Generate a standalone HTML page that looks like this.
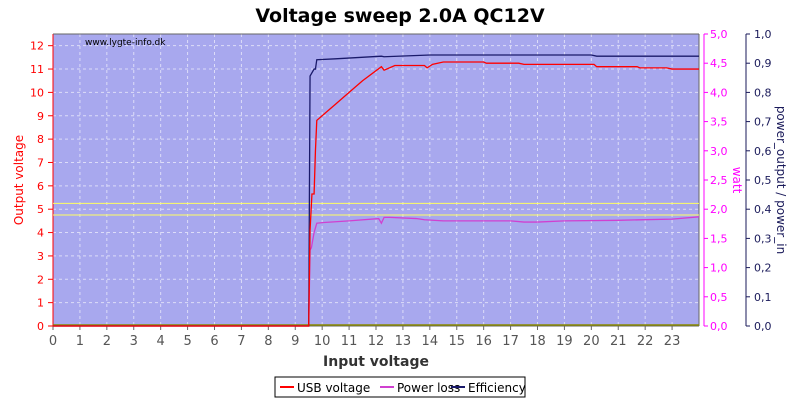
<!DOCTYPE html>
<html><head><meta charset="utf-8"><style>
body{margin:0;background:#fff;}
svg text{font-family:"DejaVu Sans","Liberation Sans",sans-serif;}
</style></head><body>
<svg id="c" width="800" height="400" xmlns="http://www.w3.org/2000/svg">
<text x="400" y="22" text-anchor="middle" font-size="19" font-weight="bold">Voltage sweep 2.0A QC12V</text>
<rect x="53" y="34" width="646" height="292" fill="#a8a8ee"/>
<g id="grid"></g>
<g id="axes"></g>
<g id="series"></g>
<text x="85" y="45" font-size="9" fill="#000">www.lygte-info.dk</text>
<text x="376" y="366" text-anchor="middle" font-size="14" font-weight="bold" fill="#333">Input voltage</text>
<text transform="translate(23,180) rotate(-90)" text-anchor="middle" font-size="12" fill="#f00">Output voltage</text>
<text transform="translate(733,180) rotate(90)" text-anchor="middle" font-size="12" fill="#f0f">watt</text>
<text transform="translate(777,180) rotate(90)" text-anchor="middle" font-size="12" fill="#1a1a5a">power_output / power_in</text>
<g>
<rect x="275" y="377" width="250" height="20" fill="#fff" stroke="#000"/>
<line x1="280" y1="387" x2="294" y2="387" stroke="#f00" stroke-width="2"/>
<text x="297" y="392" font-size="12" fill="#000">USB voltage</text>
<line x1="380" y1="387" x2="394" y2="387" stroke="#d040d0" stroke-width="2"/>
<text x="397" y="392" font-size="12" fill="#000">Power loss</text>
<line x1="451" y1="387" x2="465" y2="387" stroke="#1a1a6a" stroke-width="2"/>
<text x="468" y="392" font-size="12" fill="#000">Efficiency</text>
</g>
</svg>
<script>
const xTicks=[0,1,2,3,4,5,6,7,8,9,10,11,12,13,14,15,16,17,18,19,20,21,22,23];
const vTicks=[0,1,2,3,4,5,6,7,8,9,10,11,12];
const wTicks=["0,0","0,5","1,0","1,5","2,0","2,5","3,0","3,5","4,0","4,5","5,0"];
const eTicks=["0,0","0,1","0,2","0,3","0,4","0,5","0,6","0,7","0,8","0,9","1,0"];
const limitLines=[4.75,5.25];
const voltX=[0,9.3,9.5,9.55,9.62,9.7,9.75,9.8,10.1,10.5,11,11.5,12.2,12.3,12.7,13.8,13.9,14.1,14.5,16,16.1,17.3,17.5,20.1,20.2,21.7,21.8,22.8,23,24];
const voltY=[0,0,0,4.1,5.65,5.65,7.5,8.8,9.1,9.5,10,10.5,11.1,10.95,11.15,11.15,11.05,11.2,11.3,11.3,11.25,11.25,11.2,11.2,11.1,11.1,11.05,11.05,11.0,11.0];
const lossX=[0,9.5,9.55,9.6,9.7,9.8,10,11,12.1,12.2,12.3,12.5,13.5,13.8,14.5,17,17.5,18,19,21,22,23,24];
const lossY=[0,0,1.3,1.34,1.6,1.76,1.77,1.8,1.84,1.76,1.86,1.86,1.84,1.82,1.8,1.8,1.78,1.78,1.8,1.81,1.82,1.83,1.87];
const effX=[0,9.3,9.5,9.55,9.7,9.75,9.8,10.5,12.2,12.3,14,20,20.2,24];
const effY=[0,0,0,0.856,0.88,0.88,0.912,0.915,0.924,0.922,0.928,0.928,0.924,0.924];
const L=53,R=699,T=34,B=326;
const X=v=>L+v*(R-L)/24, YV=v=>B-v*(B-T)/12.5, YW=v=>B-v*(B-T)/5, YE=v=>B-v*(B-T)/1;
const NS="http://www.w3.org/2000/svg";
function mk(p,t,a){const e=document.createElementNS(NS,t);for(const k in a)e.setAttribute(k,a[k]);document.getElementById(p).appendChild(e);return e;}
xTicks.forEach(t=>{
 const g=mk('grid','line',{x1:X(t),x2:X(t),y1:T,y2:B,stroke:'#dcdcf8','stroke-dasharray':'3,3'});
 
 
 const tk=mk('axes','line',{x1:X(t),x2:X(t),y1:B,y2:B+4,stroke:'#666'});
 
 
 const tx=mk('axes','text',{x:X(t),y:B+19,'text-anchor':'middle','font-size':13,fill:'#555'});tx.textContent=t;
 
 
});
vTicks.forEach(t=>{
 const g=mk('grid','line',{x1:L,x2:R,y1:YV(t),y2:YV(t),stroke:'#dcdcf8','stroke-dasharray':'3,3'});
 
 
 const tk=mk('axes','line',{x1:L-5,x2:L,y1:YV(t),y2:YV(t),stroke:'#f00'});
 
 
 const tx=mk('axes','text',{x:L-9,y:YV(t)+4,'text-anchor':'end','font-size':11,fill:'#f00'});tx.textContent=t;
 
 
});
wTicks.forEach((t,i)=>{
 const y=YW(i*0.5);
 const tk=mk('axes','line',{x1:R+5,x2:R+9,y1:y,y2:y,stroke:'#f0f'});
 
 
 const tx=mk('axes','text',{x:R+11,y:y+4,'font-size':11,fill:'#f0f'});tx.textContent=t;
 
 
});
eTicks.forEach((t,i)=>{
 const y=YE(i*0.1);
 const tk=mk('axes','line',{x1:R+47,x2:R+51,y1:y,y2:y,stroke:'#1a1a5a'});
 
 
 const tx=mk('axes','text',{x:R+55,y:y+4,'font-size':11,fill:'#1a1a5a'});tx.textContent=t;
 
 
});
[[L,T,L,B,'#f00','y-axis-left'],[L,B,R,B,'#666','x-axis'],[L,T,R,T,'#666','plot-top-border'],[R,T,R,B,'#666','plot-right-border'],[R+5,T,R+5,B,'#f0f','y-axis-watt'],[R+47,T,R+47,B,'#1a1a5a','y-axis-efficiency']].forEach(a=>{
 const l=mk('axes','line',{x1:a[0],y1:a[1],x2:a[2],y2:a[3],stroke:a[4]});
 
 
});
limitLines.forEach(v=>{
 const l=mk('series','line',{x1:L,x2:R,y1:YV(v),y2:YV(v),stroke:'#ffff60'});
 
 
});
const z=mk('series','line',{x1:L,x2:R,y1:B-1,y2:B-1,stroke:'#888800','stroke-width':1.5});


function poly(xs,ys,fy,col,name){
 const p=mk('series','polyline',{points:xs.map((x,i)=>X(x)+','+fy(ys[i])).join(' '),fill:'none',stroke:col,'stroke-width':1.3});
 
 
}
poly(lossX,lossY,YW,'#d040d0','power-loss-line');
poly(effX,effY,YE,'#1a1a6a','efficiency-line');
poly(voltX,voltY,YV,'#f00','usb-voltage-line');
</script>
</body></html>
